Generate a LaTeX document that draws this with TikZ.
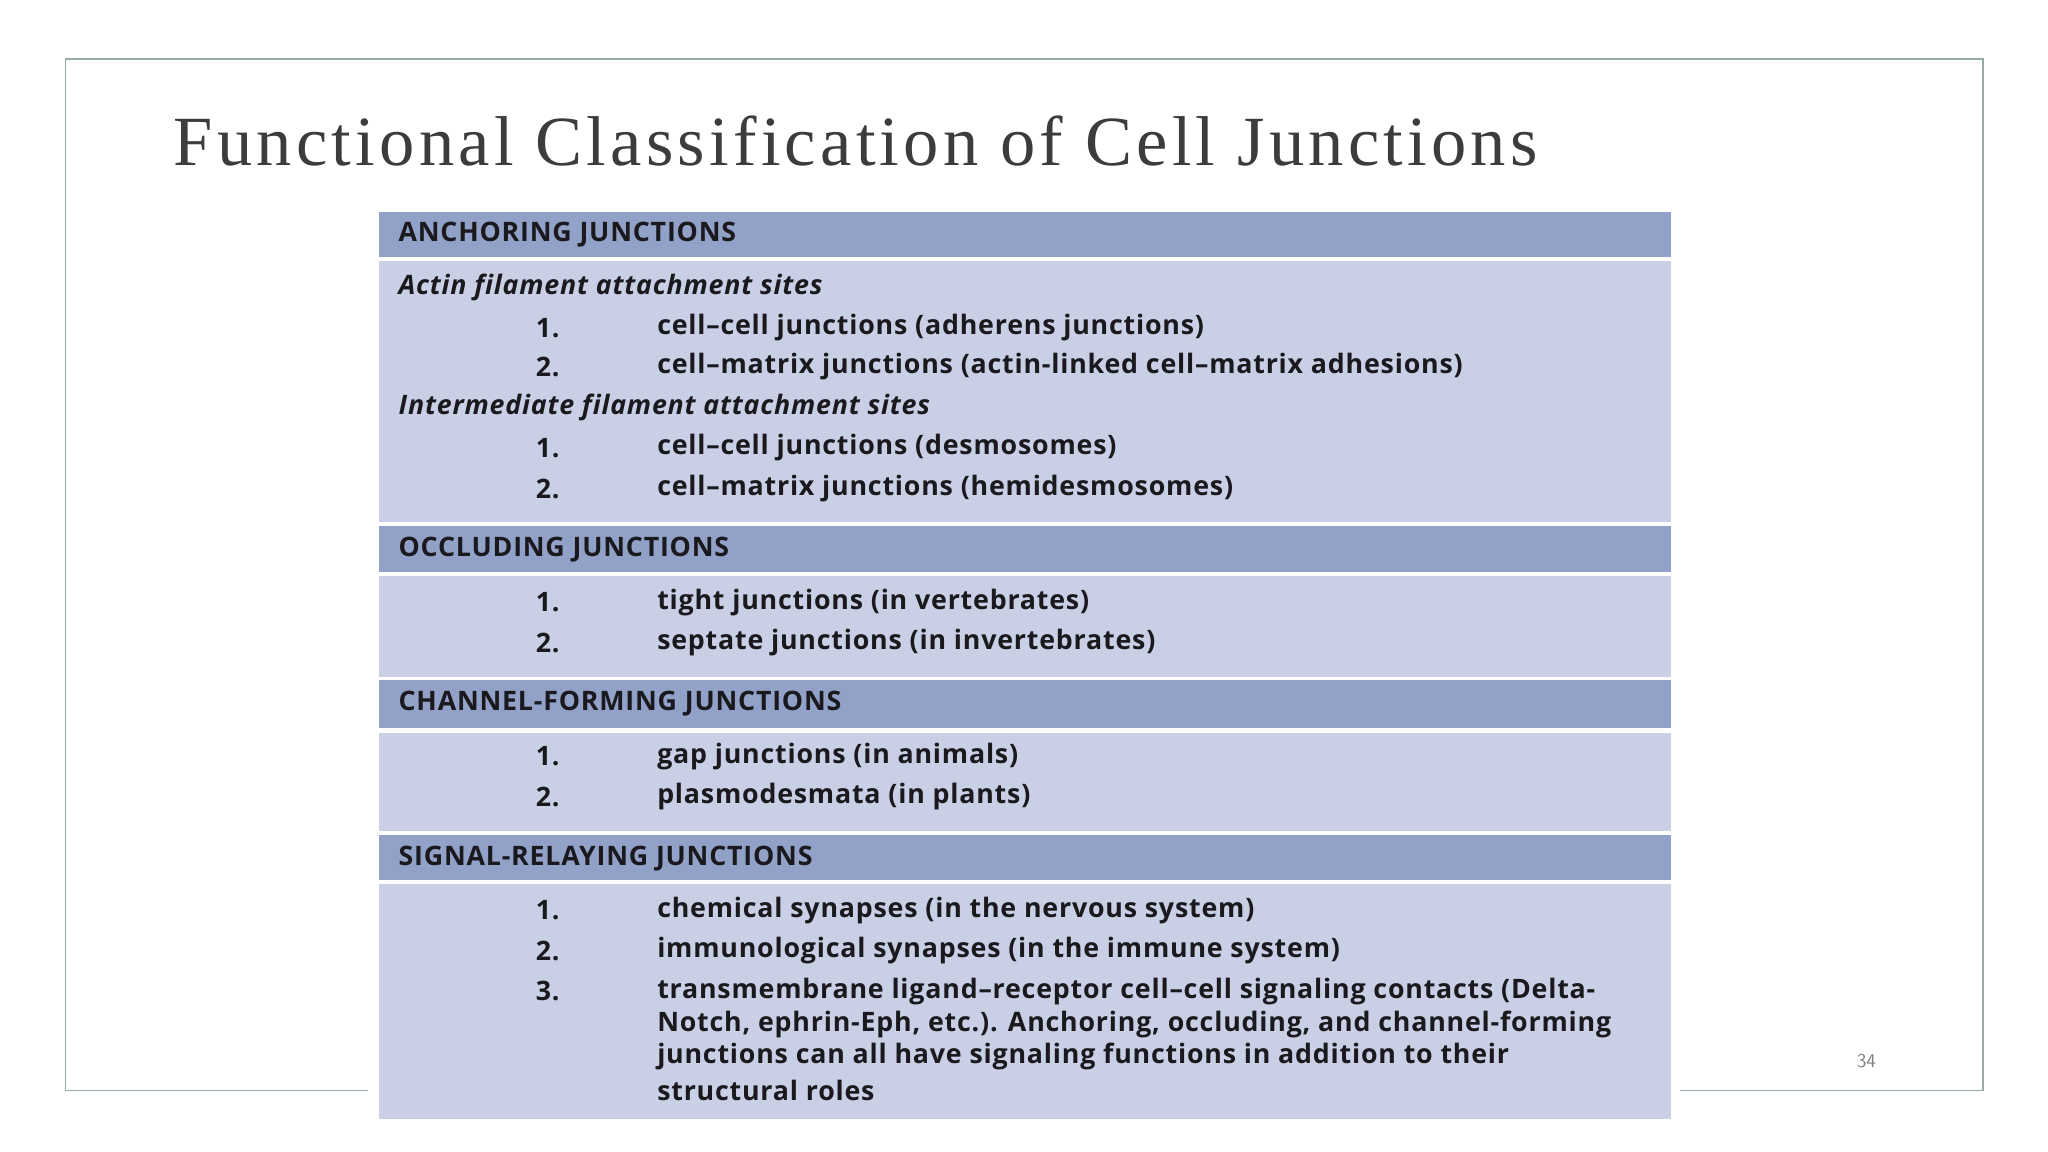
\documentclass[tikz,border=0pt]{standalone}
\usepackage{fontspec}
\setmainfont{Liberation Serif}
\newfontfamily\tabfont[Ligatures=NoCommon,LetterSpace=3]{Open Sans}
\newfontfamily\ttlfont[LetterSpace=6]{Liberation Serif}
\definecolor{frame}{RGB}{150,172,160}
\definecolor{hdr}{RGB}{146,161,199}
\definecolor{bodyc}{RGB}{201,207,229}
\definecolor{txt}{RGB}{25,25,30}
\definecolor{ttl}{RGB}{60,60,60}
\begin{document}
\begin{tikzpicture}[x=1pt,y=-1pt,
  hd/.style={anchor=west,font=\tabfont\bfseries\fontsize{20.5}{22}\selectfont,text=txt,inner sep=0},
  it/.style={anchor=west,font=\tabfont\bfseries\itshape\fontsize{20.5}{22}\selectfont,text=txt,inner sep=0},
  num/.style={anchor=west,font=\tabfont\bfseries\fontsize{20.5}{22}\selectfont,text=txt,inner sep=0},
  itm/.style={anchor=west,font=\tabfont\bfseries\fontsize{20.5}{22}\selectfont,text=txt,inner sep=0}]
\useasboundingbox (0,0) rectangle (1568,882);
\fill[white] (0,0) rectangle (1568,882);
\draw[frame,line width=1.2] (50,45) rectangle (1518,835);
\fill[white] (282,150) rectangle (1286,865);
\node[anchor=base west,inner sep=0,text=ttl,font=\ttlfont\fontsize{54}{58}\selectfont] (title) at (133,127) {Functional Classification of Cell Junctions};
\node[anchor=base,inner sep=0,text=gray,font=\sffamily\fontsize{15}{16}\selectfont] (pg) at (1429,817) {34};
% bands
\fill[hdr] (290,162) rectangle (1279,197);
\fill[bodyc] (290,200) rectangle (1279,400);
\fill[hdr] (290,403) rectangle (1279,438);
\fill[bodyc] (290,441) rectangle (1279,518);
\fill[hdr] (290,521) rectangle (1279,557);
\fill[bodyc] (290,561) rectangle (1279,636);
\fill[hdr] (290,639) rectangle (1279,674);
\fill[bodyc] (290,677) rectangle (1279,857);
% anchoring
\node[hd] (h1) at (305,180) {ANCHORING JUNCTIONS};
\node[it] (s1) at (305,220) {Actin filament attachment sites};
\node[num] (n1) at (410,251) {1.};
\node[itm] (i1) at (503,251) {cell–cell junctions (adherens junctions)};
\node[num] (n2) at (410,281) {2.};
\node[itm] (i2) at (503,281) {cell–matrix junctions (actin-linked cell–matrix adhesions)};
\node[it] (s2) at (305,312) {Intermediate filament attachment sites};
\node[num] (n3) at (410,343) {1.};
\node[itm] (i3) at (503,343) {cell–cell junctions (desmosomes)};
\node[num] (n4) at (410,374) {2.};
\node[itm] (i4) at (503,374) {cell–matrix junctions (hemidesmosomes)};
% occluding
\node[hd] (h2) at (305,421) {OCCLUDING JUNCTIONS};
\node[num] (n5) at (410,461) {1.};
\node[itm] (i5) at (503,461) {tight junctions (in vertebrates)};
\node[num] (n6) at (410,492) {2.};
\node[itm] (i6) at (503,492) {septate junctions (in invertebrates)};
% channel
\node[hd] (h3) at (305,539) {CHANNEL-FORMING JUNCTIONS};
\node[num] (n7) at (410,579) {1.};
\node[itm] (i7) at (503,579) {gap junctions (in animals)};
\node[num] (n8) at (410,610) {2.};
\node[itm] (i8) at (503,610) {plasmodesmata (in plants)};
% signal
\node[hd] (h4) at (305,657) {SIGNAL-RELAYING JUNCTIONS};
\node[num] (n9) at (410,697) {1.};
\node[itm] (i9) at (503,697) {chemical synapses (in the nervous system)};
\node[num] (n10) at (410,728) {2.};
\node[itm] (i10) at (503,728) {immunological synapses (in the immune system)};
\node[num] (n11) at (410,759) {3.};
\node[itm] (i11a) at (503,759) {transmembrane ligand–receptor cell–cell signaling contacts (Delta-};
\node[itm] (i11b) at (503,784) {Notch, ephrin-Eph, etc.). Anchoring, occluding, and channel-forming};
\node[itm] (i11c) at (503,809) {junctions can all have signaling functions in addition to their};
\node[itm] (i11d) at (503,835) {structural roles};
\end{tikzpicture}
\end{document}
